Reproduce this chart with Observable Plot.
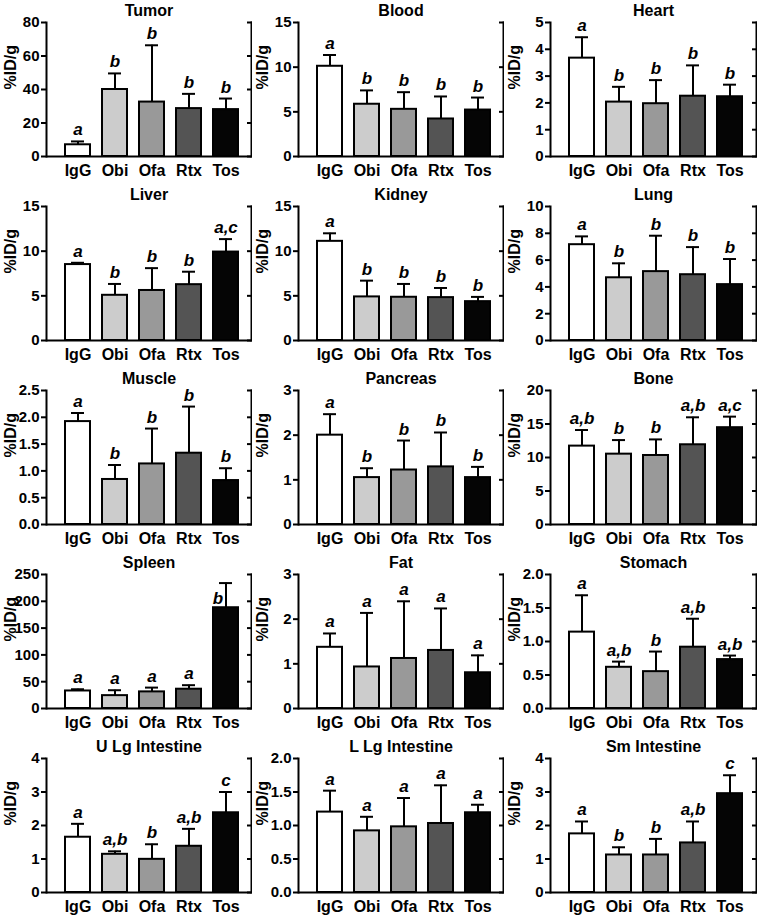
<!DOCTYPE html>
<html>
<head>
<meta charset="utf-8">
<script src="https://cdn.jsdelivr.net/npm/d3@7"></script>
<script src="https://cdn.jsdelivr.net/npm/@observablehq/plot@0.6"></script>
<style>
  html, body { margin: 0; padding: 0; background: #fff; }
  #grid { display: grid; grid-template-columns: 252px 252px 253px; grid-auto-rows: 184px; width: 757px; }
  #grid > div { position: relative; }
</style>
</head>
<body>
<div id="grid"></div>
<script>
const groups = ["IgG", "Obi", "Ofa", "Rtx", "Tos"];
const fills = ["#ffffff", "#cccccc", "#999999", "#545454", "#050505"];
const organs = ["Tumor", "Blood", "Heart", "Liver", "Kidney", "Lung", "Muscle", "Pancreas", "Bone",
  "Spleen", "Fat", "Stomach", "U Lg Intestine", "L Lg Intestine", "Sm Intestine"];
const means = [
  [7.0, 40.0, 32.5, 28.6, 28.0],
  [10.1, 5.85, 5.28, 4.2, 5.2],
  [3.67, 2.03, 1.97, 2.25, 2.23],
  [8.5, 5.06, 5.6, 6.25, 9.9],
  [11.1, 4.88, 4.84, 4.8, 4.35],
  [7.15, 4.68, 5.14, 4.91, 4.17],
  [1.92, 0.84, 1.13, 1.33, 0.82],
  [2.0, 1.05, 1.22, 1.29, 1.05],
  [11.7, 10.5, 10.3, 11.9, 14.45],
  [32.7, 24.0, 31.0, 36.0, 188.0],
  [1.37, 0.93, 1.12, 1.3, 0.8],
  [1.14, 0.615, 0.55, 0.915, 0.73],
  [1.65, 1.14, 0.99, 1.38, 2.38],
  [1.2, 0.92, 0.98, 1.03, 1.19],
  [1.75, 1.12, 1.12, 1.48, 2.95]
];
const sds = [
  [2.0, 9.6, 33.9, 8.8, 6.6],
  [1.26, 1.55, 1.92, 2.52, 1.4],
  [0.78, 0.57, 0.88, 1.15, 0.45],
  [0.2, 1.27, 2.5, 1.45, 1.45],
  [0.9, 1.82, 1.49, 1.08, 0.53],
  [0.62, 1.08, 2.68, 2.06, 1.91],
  [0.16, 0.27, 0.66, 0.87, 0.23],
  [0.47, 0.21, 0.66, 0.77, 0.24],
  [2.4, 2.1, 2.4, 4.1, 1.65],
  [3.2, 10.1, 8.0, 7.5, 46.0],
  [0.31, 1.21, 1.28, 0.94, 0.39],
  [0.55, 0.085, 0.3, 0.425, 0.06],
  [0.4, 0.09, 0.45, 0.52, 0.62],
  [0.32, 0.21, 0.43, 0.57, 0.12],
  [0.37, 0.23, 0.48, 0.64, 0.55]
];
const letters = [
  ["a", "b", "b", "b", "b"],
  ["a", "b", "b", "b", "b"],
  ["a", "b", "b", "b", "b"],
  ["a", "b", "b", "b", "a,c"],
  ["a", "b", "b", "b", "b"],
  ["a", "b", "b", "b", "b"],
  ["a", "b", "b", "b", "b"],
  ["a", "b", "b", "b", "b"],
  ["a,b", "b", "b", "a,b", "a,c"],
  ["a", "a", "a", "a", "b"],
  ["a", "a", "a", "a", "a"],
  ["a", "a,b", "b", "a,b", "a,b"],
  ["a", "a,b", "b", "a,b", "c"],
  ["a", "a", "a", "a", "a"],
  ["a", "b", "b", "a,b", "c"]
];
const yTicks = [
  [0, 20, 40, 60, 80],
  [0, 5, 10, 15],
  [0, 1, 2, 3, 4, 5],
  [0, 5, 10, 15],
  [0, 5, 10, 15],
  [0, 2, 4, 6, 8, 10],
  [0, 0.5, 1, 1.5, 2, 2.5],
  [0, 1, 2, 3],
  [0, 5, 10, 15, 20],
  [0, 50, 100, 150, 200, 250],
  [0, 1, 2, 3],
  [0, 0.5, 1, 1.5, 2],
  [0, 1, 2, 3, 4],
  [0, 0.5, 1, 1.5, 2],
  [0, 1, 2, 3, 4]
];
const tickDecimals = [0, 0, 0, 0, 0, 0, 1, 0, 0, 0, 0, 1, 0, 1, 0];
const yLabel = "%ID/g";

const FONT = "'Liberation Sans', Arial, Helvetica, sans-serif";
const grid = document.getElementById("grid");

organs.forEach((organ, k) => {
  const ticks = yTicks[k];
  const yMax = ticks[ticks.length - 1];
  const data = groups.map((g, i) => ({
    group: g,
    mean: means[k][i],
    top: means[k][i] + sds[k][i],
    letter: letters[k][i],
    inside: (yMax - (means[k][i] + sds[k][i])) / yMax * 134 < 12
  }));
  const width = (k % 3 === 2) ? 253 : 252;
  const fmt = d3.format("." + tickDecimals[k] + "f");
  const chart = Plot.plot({
    width,
    height: 184,
    marginTop: 22,
    marginBottom: 28,
    marginLeft: 46,
    marginRight: 1,
    style: { fontFamily: FONT, fontWeight: "bold", fontSize: "15px", color: "black", background: "white", overflow: "visible" },
    x: { type: "band", domain: groups, paddingInner: 0.335, paddingOuter: 0.394, align: 0.576 },
    y: { domain: [0, yMax], nice: false },
    color: { domain: groups, range: fills },
    marks: [
      Plot.barY(data, { x: "group", y: "mean", fill: "group", stroke: "black", strokeWidth: 2 }),
      Plot.ruleX(data, { x: "group", y1: "mean", y2: "top", stroke: "black", strokeWidth: 2 }),
      Plot.tickY(data, { x: "group", y: "top", stroke: "black", strokeWidth: 2, insetLeft: 6, insetRight: 6 }),
      Plot.text(data.filter(d => !d.inside), { x: "group", y: "top", text: "letter", dy: -6, lineAnchor: "bottom", fontSize: 17, fontStyle: "italic", fontWeight: "bold" }),
      Plot.text(data.filter(d => d.inside), { x: "group", y: "top", text: "letter", dx: -8, dy: 15, lineAnchor: "middle", fontSize: 17, fontStyle: "italic", fontWeight: "bold" }),
      Plot.axisY({ anchor: "left", ticks, tickFormat: fmt, tickSize: 5, tickPadding: 2, strokeWidth: 2, fontSize: 15, label: null }),
      Plot.axisY({ anchor: "right", ticks, tickFormat: () => "", tickSize: 5, dx: -5, strokeWidth: 2, label: null }),
      Plot.axisX({ anchor: "bottom", tickSize: 0, tickPadding: 8, fontSize: 16, label: null }),
      Plot.frame({ anchor: "left", stroke: "black", strokeWidth: 2 }),
      Plot.frame({ anchor: "right", stroke: "black", strokeWidth: 2 }),
      Plot.ruleY([0], { stroke: "black", strokeWidth: 2 }),
      Plot.text([organ], { frameAnchor: "top", dy: -7, lineAnchor: "bottom", fontSize: 16, fontWeight: "bold" }),
      Plot.text([yLabel], { frameAnchor: "left", rotate: -90, dx: -36, fontSize: 16, fontWeight: "bold" })
    ]
  });
  const cell = document.createElement("div");
  cell.appendChild(chart);
  grid.appendChild(cell);
});
</script>
</body>
</html>
